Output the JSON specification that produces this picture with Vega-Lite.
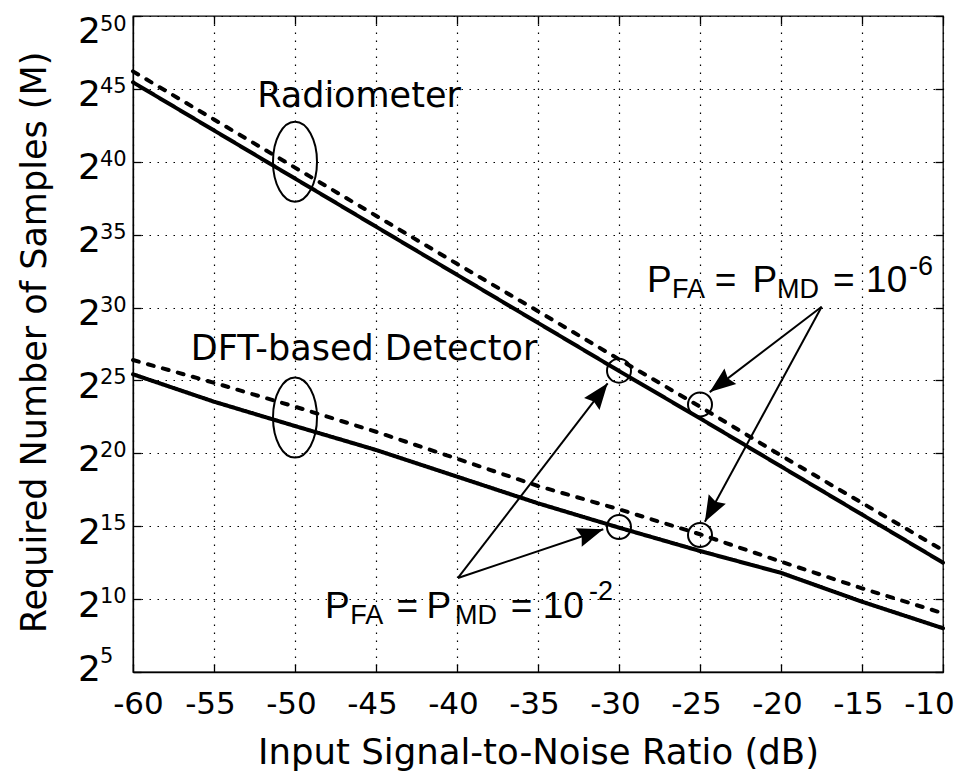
{
  "$schema": "https://vega.github.io/schema/vega-lite/v6.json",
  "width": 810,
  "height": 656,
  "autosize": {"type": "none"},
  "padding": {"left": 133, "top": 16, "right": 18, "bottom": 106},
  "background": "white",
  "config": {
    "font": "DejaVu Sans",
    "view": {"stroke": "#000", "strokeWidth": 1.3},
    "axis": {
      "labelColor": "#000",
      "titleColor": "#000",
      "tickColor": "#000",
      "domainColor": "#000",
      "labelFont": "DejaVu Sans",
      "titleFont": "DejaVu Sans",
      "titleFontWeight": "normal"
    }
  },
  "datasets": {
    "curves": [
      {"snr": -60, "logM": 45.45, "detector": "Radiometer", "pfa": "1e-2"},
      {"snr": -55, "logM": 42.15, "detector": "Radiometer", "pfa": "1e-2"},
      {"snr": -50, "logM": 38.85, "detector": "Radiometer", "pfa": "1e-2"},
      {"snr": -45, "logM": 35.55, "detector": "Radiometer", "pfa": "1e-2"},
      {"snr": -40, "logM": 32.25, "detector": "Radiometer", "pfa": "1e-2"},
      {"snr": -35, "logM": 28.95, "detector": "Radiometer", "pfa": "1e-2"},
      {"snr": -30, "logM": 25.65, "detector": "Radiometer", "pfa": "1e-2"},
      {"snr": -25, "logM": 22.4, "detector": "Radiometer", "pfa": "1e-2"},
      {"snr": -20, "logM": 19.1, "detector": "Radiometer", "pfa": "1e-2"},
      {"snr": -15, "logM": 15.8, "detector": "Radiometer", "pfa": "1e-2"},
      {"snr": -10, "logM": 12.5, "detector": "Radiometer", "pfa": "1e-2"},
      {"snr": -60, "logM": 46.2, "detector": "Radiometer", "pfa": "1e-6"},
      {"snr": -55, "logM": 42.9, "detector": "Radiometer", "pfa": "1e-6"},
      {"snr": -50, "logM": 39.6, "detector": "Radiometer", "pfa": "1e-6"},
      {"snr": -45, "logM": 36.3, "detector": "Radiometer", "pfa": "1e-6"},
      {"snr": -40, "logM": 33.0, "detector": "Radiometer", "pfa": "1e-6"},
      {"snr": -35, "logM": 29.75, "detector": "Radiometer", "pfa": "1e-6"},
      {"snr": -30, "logM": 26.45, "detector": "Radiometer", "pfa": "1e-6"},
      {"snr": -25, "logM": 23.2, "detector": "Radiometer", "pfa": "1e-6"},
      {"snr": -20, "logM": 19.85, "detector": "Radiometer", "pfa": "1e-6"},
      {"snr": -15, "logM": 16.6, "detector": "Radiometer", "pfa": "1e-6"},
      {"snr": -10, "logM": 13.35, "detector": "Radiometer", "pfa": "1e-6"},
      {"snr": -60, "logM": 25.42, "detector": "DFT", "pfa": "1e-2"},
      {"snr": -55, "logM": 23.54, "detector": "DFT", "pfa": "1e-2"},
      {"snr": -50, "logM": 21.87, "detector": "DFT", "pfa": "1e-2"},
      {"snr": -45, "logM": 20.23, "detector": "DFT", "pfa": "1e-2"},
      {"snr": -40, "logM": 18.4, "detector": "DFT", "pfa": "1e-2"},
      {"snr": -35, "logM": 16.57, "detector": "DFT", "pfa": "1e-2"},
      {"snr": -30, "logM": 14.9, "detector": "DFT", "pfa": "1e-2"},
      {"snr": -25, "logM": 13.3, "detector": "DFT", "pfa": "1e-2"},
      {"snr": -20, "logM": 11.8, "detector": "DFT", "pfa": "1e-2"},
      {"snr": -15, "logM": 9.82, "detector": "DFT", "pfa": "1e-2"},
      {"snr": -10, "logM": 8.0, "detector": "DFT", "pfa": "1e-2"},
      {"snr": -60, "logM": 26.4, "detector": "DFT", "pfa": "1e-6"},
      {"snr": -55, "logM": 24.84, "detector": "DFT", "pfa": "1e-6"},
      {"snr": -50, "logM": 23.2, "detector": "DFT", "pfa": "1e-6"},
      {"snr": -45, "logM": 21.48, "detector": "DFT", "pfa": "1e-6"},
      {"snr": -40, "logM": 19.63, "detector": "DFT", "pfa": "1e-6"},
      {"snr": -35, "logM": 17.76, "detector": "DFT", "pfa": "1e-6"},
      {"snr": -30, "logM": 16.16, "detector": "DFT", "pfa": "1e-6"},
      {"snr": -25, "logM": 14.45, "detector": "DFT", "pfa": "1e-6"},
      {"snr": -20, "logM": 12.57, "detector": "DFT", "pfa": "1e-6"},
      {"snr": -15, "logM": 10.74, "detector": "DFT", "pfa": "1e-6"},
      {"snr": -10, "logM": 9.03, "detector": "DFT", "pfa": "1e-6"}
    ],
    "ellipses": [
      {"snr": -50, "logM": 40.0},
      {"snr": -50, "logM": 22.45}
    ],
    "circles": [
      {"snr": -30, "logM": 25.67},
      {"snr": -25, "logM": 23.35},
      {"snr": -30, "logM": 14.95},
      {"snr": -25, "logM": 14.4}
    ],
    "arrows": [
      {"x1": -17.49, "y1": 30.06, "x2": -24.4, "y2": 24.2},
      {"x1": -17.49, "y1": 30.06, "x2": -24.7, "y2": 15.3},
      {"x1": -39.94, "y1": 11.45, "x2": -30.7, "y2": 24.8},
      {"x1": -39.94, "y1": 11.45, "x2": -30.97, "y2": 14.79}
    ],
    "labels": [
      {"snr": -46.05, "logM": 43.76, "text": "Radiometer"},
      {"snr": -45.74, "logM": 26.4, "text": "DFT-based Detector"}
    ],
    "formula": [
      {"snr": -28.27, "logM": 31.09, "t": "P", "k": "main"},
      {"snr": -26.73, "logM": 30.68, "t": "FA", "k": "small"},
      {"snr": -24.09, "logM": 31.09, "t": "=", "k": "main"},
      {"snr": -21.76, "logM": 31.09, "t": "P", "k": "main"},
      {"snr": -20.25, "logM": 30.68, "t": "MD", "k": "small"},
      {"snr": -16.79, "logM": 31.09, "t": "=", "k": "main"},
      {"snr": -14.75, "logM": 31.09, "t": "10", "k": "main"},
      {"snr": -12.1, "logM": 32.23, "t": "-6", "k": "small"},
      {"snr": -48.15, "logM": 8.68, "t": "P", "k": "main"},
      {"snr": -46.59, "logM": 8.29, "t": "FA", "k": "small"},
      {"snr": -43.74, "logM": 8.68, "t": "=", "k": "main"},
      {"snr": -41.88, "logM": 8.68, "t": "P", "k": "main"},
      {"snr": -40.12, "logM": 8.29, "t": "MD", "k": "small"},
      {"snr": -36.68, "logM": 8.68, "t": "=", "k": "main"},
      {"snr": -34.71, "logM": 8.68, "t": "10", "k": "main"},
      {"snr": -31.85, "logM": 9.94, "t": "-2", "k": "small"}
    ],
    "exponents": [
      {"e": 5}, {"e": 10}, {"e": 15}, {"e": 20}, {"e": 25},
      {"e": 30}, {"e": 35}, {"e": 40}, {"e": 45}, {"e": 50}
    ]
  },
  "resolve": {"axis": {"x": "independent", "y": "independent"}},
  "layer": [
    {
      "data": {"name": "curves"},
      "mark": {"type": "line", "color": "#000", "strokeWidth": 4, "strokeCap": "round"},
      "encoding": {
        "x": {
          "field": "snr", "type": "quantitative",
          "scale": {"domain": [-60, -10], "nice": false, "zero": false},
          "axis": {
            "orient": "bottom",
            "values": [-60, -55, -50, -45, -40, -35, -30, -25, -20, -15, -10],
            "title": "Input Signal-to-Noise Ratio (dB)",
            "grid": true, "gridDash": [1.5, 6.5], "gridColor": "#000", "gridWidth": 1.2,
            "ticks": true, "tickSize": -8, "tickWidth": 1.3,
            "domain": true, "domainWidth": 1.3,
            "labelExpr": "'' + datum.value",
            "labelFontSize": 31, "labelPadding": 49, "labelBaseline": "alphabetic",
            "labelFlush": false, "labelOverlap": false,
            "labelOffset": {"condition": [{"test": "datum.value === -60", "value": 5}, {"test": "datum.value === -10", "value": -14}], "value": -4},
            "titleFontSize": 35.5, "titleX": 405, "titleY": 91, "titleBaseline": "alphabetic", "titleAlign": "center"
          }
        },
        "y": {
          "field": "logM", "type": "quantitative",
          "scale": {"domain": [5, 50], "nice": false, "zero": false},
          "axis": {
            "orient": "left",
            "values": [5, 10, 15, 20, 25, 30, 35, 40, 45, 50],
            "title": "Required Number of Samples (M)",
            "grid": true, "gridDash": [1.5, 6.5], "gridColor": "#000", "gridWidth": 1.2,
            "ticks": true, "tickSize": -8, "tickWidth": 1.3,
            "domain": true, "domainWidth": 1.3,
            "labelExpr": "'2'",
            "labelFontSize": 36, "labelPadding": 40.5, "labelBaseline": "alphabetic", "labelAlign": "right",
            "labelFlush": false, "labelOverlap": false,
            "labelOffset": {"condition": [{"test": "datum.value === 50", "value": 26}, {"test": "datum.value === 5", "value": 8}], "value": 17},
            "titleFontSize": 35, "titleX": -88, "titleY": 326, "titleAngle": 270, "titleBaseline": "alphabetic", "titleAlign": "center"
          }
        },
        "detail": {"field": "detector", "type": "nominal"},
        "strokeDash": {
          "field": "pfa", "type": "nominal",
          "scale": {"domain": ["1e-2", "1e-6"], "range": [[1, 0], [6, 9.5]]},
          "legend": null
        }
      }
    },
    {
      "data": {"name": "ellipses"},
      "mark": {
        "type": "point", "filled": false, "color": "#000", "strokeWidth": 2, "size": 6400, "opacity": 1,
        "shape": "M0,-1 C0.3038,-1 0.55,-0.5523 0.55,0 C0.55,0.5523 0.3038,1 0,1 C-0.3038,1 -0.55,0.5523 -0.55,0 C-0.55,-0.5523 -0.3038,-1 0,-1 Z"
      },
      "encoding": {
        "x": {
          "field": "snr", "type": "quantitative",
          "scale": {"domain": [-60, -10], "nice": false, "zero": false},
          "axis": {
            "orient": "top", "values": [-60, -55, -50, -45, -40, -35, -30, -25, -20, -15, -10],
            "title": null, "labels": false, "grid": false, "domain": false,
            "ticks": true, "tickSize": -8, "tickWidth": 1.3
          }
        },
        "y": {
          "field": "logM", "type": "quantitative",
          "scale": {"domain": [5, 50], "nice": false, "zero": false},
          "axis": {
            "orient": "right", "values": [5, 10, 15, 20, 25, 30, 35, 40, 45, 50],
            "title": null, "labels": false, "grid": false, "domain": false,
            "ticks": true, "tickSize": -8, "tickWidth": 1.3
          }
        }
      }
    },
    {
      "data": {"name": "circles"},
      "mark": {"type": "point", "shape": "circle", "filled": false, "color": "#000", "strokeWidth": 2, "size": 576, "opacity": 1},
      "encoding": {
        "x": {"field": "snr", "type": "quantitative", "scale": {"domain": [-60, -10], "nice": false, "zero": false}, "axis": null},
        "y": {"field": "logM", "type": "quantitative", "scale": {"domain": [5, 50], "nice": false, "zero": false}, "axis": null}
      }
    },
    {
      "data": {"name": "arrows"},
      "mark": {"type": "rule", "color": "#000", "strokeWidth": 2},
      "encoding": {
        "x": {"field": "x1", "type": "quantitative", "scale": {"domain": [-60, -10], "nice": false, "zero": false}, "axis": null},
        "y": {"field": "y1", "type": "quantitative", "scale": {"domain": [5, 50], "nice": false, "zero": false}, "axis": null},
        "x2": {"field": "x2"},
        "y2": {"field": "y2"}
      }
    },
    {
      "data": {"name": "arrows"},
      "transform": [
        {"calculate": "atan2((datum.x2 - datum.x1) * 16.2, (datum.y2 - datum.y1) * 14.578) * 180 / PI", "as": "heading"}
      ],
      "mark": {
        "type": "point", "filled": true, "color": "#000", "strokeWidth": 0, "size": 676, "opacity": 1,
        "shape": "M0,0 L-0.75,2 L0,1.75 L0.75,2 Z"
      },
      "encoding": {
        "x": {"field": "x2", "type": "quantitative", "scale": {"domain": [-60, -10], "nice": false, "zero": false}, "axis": null},
        "y": {"field": "y2", "type": "quantitative", "scale": {"domain": [5, 50], "nice": false, "zero": false}, "axis": null},
        "angle": {"field": "heading", "type": "quantitative", "scale": null}
      }
    },
    {
      "data": {"name": "labels"},
      "mark": {"type": "text", "font": "DejaVu Sans", "fontSize": 35, "color": "#000", "align": "center", "baseline": "alphabetic"},
      "encoding": {
        "x": {"field": "snr", "type": "quantitative", "scale": {"domain": [-60, -10], "nice": false, "zero": false}, "axis": null},
        "y": {"field": "logM", "type": "quantitative", "scale": {"domain": [5, 50], "nice": false, "zero": false}, "axis": null},
        "text": {"field": "text", "type": "nominal"}
      }
    },
    {
      "data": {"name": "formula"},
      "mark": {"type": "text", "font": "Liberation Sans", "color": "#000", "align": "left", "baseline": "alphabetic"},
      "encoding": {
        "x": {"field": "snr", "type": "quantitative", "scale": {"domain": [-60, -10], "nice": false, "zero": false}, "axis": null},
        "y": {"field": "logM", "type": "quantitative", "scale": {"domain": [5, 50], "nice": false, "zero": false}, "axis": null},
        "text": {"field": "t", "type": "nominal"},
        "size": {"field": "k", "type": "nominal", "scale": {"domain": ["main", "small"], "range": [37, 27]}, "legend": null}
      }
    },
    {
      "data": {"name": "exponents"},
      "transform": [{"filter": "datum.e > 5 && datum.e < 50"}],
      "mark": {"type": "text", "font": "DejaVu Sans", "fontSize": 21, "color": "#000", "align": "left", "baseline": "alphabetic", "dx": -33, "dy": 4},
      "encoding": {
        "x": {"datum": -60, "type": "quantitative", "scale": {"domain": [-60, -10], "nice": false, "zero": false}, "axis": null},
        "y": {"field": "e", "type": "quantitative", "scale": {"domain": [5, 50], "nice": false, "zero": false}, "axis": null},
        "text": {"field": "e", "type": "quantitative", "format": "d"}
      }
    },
    {
      "data": {"name": "exponents"},
      "transform": [{"filter": "datum.e === 50"}],
      "mark": {"type": "text", "font": "DejaVu Sans", "fontSize": 21, "color": "#000", "align": "left", "baseline": "alphabetic", "dx": -33, "dy": 15},
      "encoding": {
        "x": {"datum": -60, "type": "quantitative", "scale": {"domain": [-60, -10], "nice": false, "zero": false}, "axis": null},
        "y": {"field": "e", "type": "quantitative", "scale": {"domain": [5, 50], "nice": false, "zero": false}, "axis": null},
        "text": {"field": "e", "type": "quantitative", "format": "d"}
      }
    },
    {
      "data": {"name": "exponents"},
      "transform": [{"filter": "datum.e === 5"}],
      "mark": {"type": "text", "font": "DejaVu Sans", "fontSize": 21, "color": "#000", "align": "left", "baseline": "alphabetic", "dx": -33, "dy": -9},
      "encoding": {
        "x": {"datum": -60, "type": "quantitative", "scale": {"domain": [-60, -10], "nice": false, "zero": false}, "axis": null},
        "y": {"field": "e", "type": "quantitative", "scale": {"domain": [5, 50], "nice": false, "zero": false}, "axis": null},
        "text": {"field": "e", "type": "quantitative", "format": "d"}
      }
    }
  ]
}
